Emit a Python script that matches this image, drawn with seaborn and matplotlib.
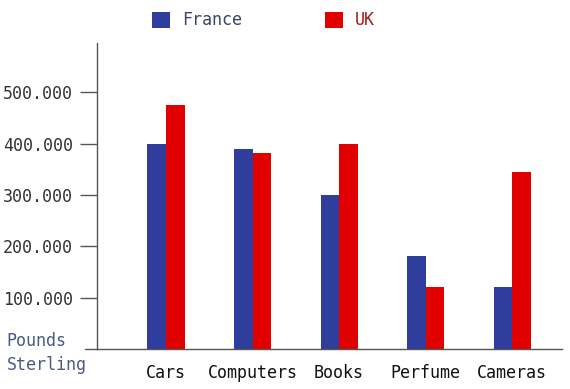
import pandas as pd
import matplotlib.pyplot as plt
import seaborn as sb

# values (thousands of pounds)
categories = ["Cars", "Computers", "Books", "Perfume", "Cameras"]
france = [400, 389, 300, 181, 120]
uk = [476, 381, 400, 120, 345]
yticks = [100, 200, 300, 400, 500]
yticklabels = ["100.000", "200.000", "300.000", "400.000", "500.000"]

sb.set_style("white")
plt.rcParams['font.family'] = ['DejaVu Sans Mono']

df = pd.DataFrame({
    "category": categories * 2,
    "value": france + uk,
    "country": ["France"] * len(categories) + ["UK"] * len(categories),
})

fig = plt.figure(figsize=(5.7, 3.89), dpi=100)
ax = fig.add_axes([0.1697, 0.1028, 0.8163, 0.7867])

sb.barplot(data=df, x="category", y="value", hue="country",
           palette={"France": "#2f3e9c", "UK": "#e10000"},
           width=0.43, saturation=1, errorbar=None, linewidth=0, ax=ax)

ax.set_xlim(-0.8, 4.575)
ax.set_ylim(0, 596)
ax.set_yticks(yticks)
ax.set_yticklabels(yticklabels)
ax.set_xlabel("")
ax.set_ylabel("")

for s in ["top", "right"]:
    ax.spines[s].set_visible(False)
ax.spines["left"].set_color("#555555")
ax.spines["bottom"].set_color("#555555")
ax.spines["left"].set_linewidth(1.0)
ax.spines["bottom"].set_linewidth(1.0)
# baseline pokes out left of the y axis like the tick marks do
ax.plot([-0.94, -0.8], [0, 0], color="#555555", lw=1.0, clip_on=False)

ax.tick_params(axis="y", left=True, length=12, width=1, color="#555555",
               labelsize=12, labelcolor="#333333", pad=5)
ax.tick_params(axis="x", length=0, labelsize=12, labelcolor="#111111", pad=11)

fig.text(0.012, 0.123, "Pounds", fontsize=12, color="#4a5a88", va="center")
fig.text(0.012, 0.062, "Sterling", fontsize=12, color="#4a5a88", va="center")

leg = ax.legend(loc="center", ncol=2, frameon=False,
                handlelength=1.1, handleheight=1.1, columnspacing=5.0,
                handletextpad=0.7, fontsize=12)
leg.set_bbox_to_anchor((0.462, 0.948), transform=fig.transFigure)
texts = leg.get_texts()
texts[0].set_color("#3c4466")
texts[1].set_color("#a01818")

fig.savefig("out.png", dpi=100)
